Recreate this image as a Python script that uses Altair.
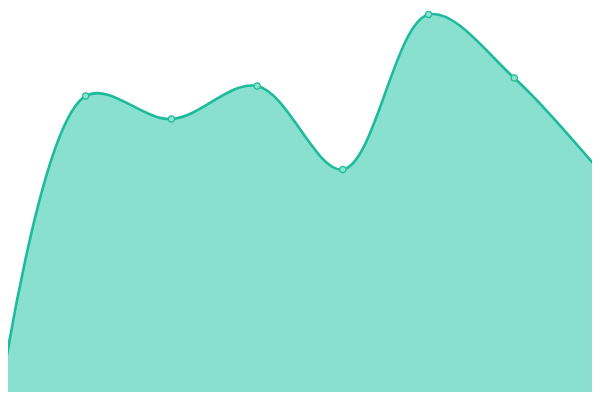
import altair as alt
import pandas as pd

idx = [0, 1, 2, 3, 4, 5, 6, 7]
values = [1, 304, 281, 314, 230.5, 385.5, 322, 228.5]

df = pd.DataFrame({"i": idx, "v": values})

step = 600 / 7
x = alt.X("i:Q", scale=alt.Scale(domain=[8 / step, 592 / step], nice=False, zero=False), axis=None)
y = alt.Y("v:Q", scale=alt.Scale(domain=[8, 392], nice=False, zero=False), axis=None)

base = alt.Chart(df).encode(x=x, y=y)

area = base.mark_area(interpolate="catmull-rom", color="#89e0cf", clip=True)
line = base.mark_line(interpolate="catmull-rom", color="#1dbb9b", strokeWidth=2.6, clip=True)
pts = base.mark_point(filled=True, fill="#8de2d1", stroke="#1dbb9b", strokeWidth=1.2, size=40, opacity=1, clip=True)

chart = (area + line + pts).properties(
    width=584, height=384, padding=0, autosize=alt.AutoSizeParams(type="none")
).configure_view(stroke=None)

chart.save("out.html", embed_options={"renderer": "svg", "actions": False})
